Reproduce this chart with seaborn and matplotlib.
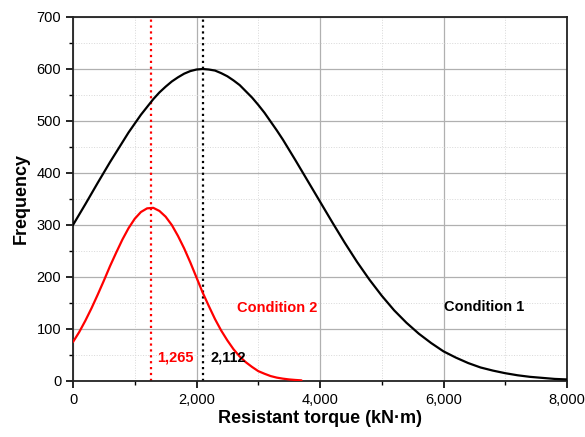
import numpy as np
import pandas as pd
import matplotlib.pyplot as plt
import seaborn as sns
from matplotlib.ticker import MultipleLocator, FuncFormatter

# ==========================================
# 1. DADOS
# ==========================================
# Condition 1 (curva preta)
torque_c1 = [0, 200, 400, 600, 800, 900, 1000, 1100, 1200, 1300, 1400, 1500,
             1600, 1700, 1800, 1900, 2000, 2100, 2200, 2300, 2400, 2500,
             2600, 2700, 2800, 2900, 3000, 3100, 3200, 3300, 3400, 3600,
             3800, 4000, 4200, 4400, 4600, 4800, 5000, 5200, 5400, 5600,
             5800, 6000, 6200, 6400, 6600, 6800, 7000, 7200, 7400, 7600,
             7800, 8000]
freq_c1 = [300, 340, 381, 421, 459, 478, 495, 512, 527, 542, 555, 566,
           576, 584, 591, 596, 599, 600, 599, 597, 592, 586,
           578, 569, 557, 545, 531, 516, 499, 482, 464, 425,
           385, 345, 305, 266, 229, 195, 164, 136, 112, 91,
           73, 57, 45, 34.5, 26, 20, 15, 11, 8, 6,
           4, 3]

# Condition 2 (curva vermelha), passo de 100 kN·m
torque_c2 = list(range(0, 3701, 100))
freq_c2 = [75, 94, 116, 140, 166, 193, 221, 247, 272, 294, 312,
           325, 332, 333, 327, 316, 300, 279, 255, 228, 199,
           170, 144, 119, 97, 78, 61, 47, 36, 27, 19,
           14, 9.5, 6.5, 4.5, 3, 2, 1.2]

media_c1 = 2112
media_c2 = 1265
rotulos_condicao = ["Condition 1", "Condition 2"]

df1 = pd.DataFrame({"torque": torque_c1, "freq": freq_c1})
df2 = pd.DataFrame({"torque": torque_c2, "freq": freq_c2})

# ==========================================
# 2. ESTILO
# ==========================================
sns.set_style("ticks")
plt.rcParams['font.family'] = ['Liberation Sans', 'DejaVu Sans']
plt.rcParams['text.color'] = 'black'
plt.rcParams['axes.labelcolor'] = 'black'
plt.rcParams['xtick.color'] = 'black'
plt.rcParams['ytick.color'] = 'black'

fig = plt.figure(figsize=(5.85, 4.37), dpi=100)
ax = fig.add_axes([73 / 585, 56 / 437, 494 / 585, 364 / 437])

# grade principal e secundária
ax.xaxis.set_major_locator(MultipleLocator(2000))
ax.xaxis.set_minor_locator(MultipleLocator(1000))
ax.yaxis.set_major_locator(MultipleLocator(100))
ax.yaxis.set_minor_locator(MultipleLocator(50))
ax.grid(which='major', color='#b0b0b0', linewidth=0.9, linestyle='-', zorder=0)
ax.grid(which='minor', color='#d8d8d8', linewidth=0.7, linestyle=':', zorder=0)
ax.set_axisbelow(True)

# ==========================================
# 3. CURVAS
# ==========================================
ax.axvline(media_c2, color='red', linestyle=':', linewidth=1.6, zorder=2)
ax.axvline(media_c1, color='black', linestyle=':', linewidth=1.6, zorder=2)

sns.lineplot(data=df1, x="torque", y="freq", ax=ax, color='black', linewidth=1.6, zorder=3)
sns.lineplot(data=df2, x="torque", y="freq", ax=ax, color='red', linewidth=1.6, zorder=3)

ax.set_xlim(0, 8000)
ax.set_ylim(0, 700)

# rótulos internos
ax.text(6008, 142, rotulos_condicao[0], color='black', fontsize=10.5, fontweight='bold', va='center', ha='left')
ax.text(2656, 140, rotulos_condicao[1], color='red', fontsize=10.5, fontweight='bold', va='center', ha='left')
ax.text(1360, 46, f"{media_c2:,}", color='red', fontsize=10.5, fontweight='bold', va='center', ha='left')
ax.text(2219, 46, f"{media_c1:,}", color='black', fontsize=10.5, fontweight='bold', va='center', ha='left')

# eixos
ax.xaxis.set_major_formatter(FuncFormatter(lambda v, p: f"{int(v):,}"))
ax.set_xlabel("Resistant torque (kN·m)", fontsize=13, fontweight='bold', labelpad=2)
ax.set_ylabel("Frequency", fontsize=13, fontweight='bold', labelpad=5)
ax.tick_params(axis='both', which='major', labelsize=10.5, direction='out', length=5, width=1.2)
ax.tick_params(axis='both', which='minor', direction='out', length=3, width=1.0)
for lado in ax.spines.values():
    lado.set_visible(True)
    lado.set_color('#222222')
    lado.set_linewidth(1.3)

fig.savefig("out.png", dpi=100)
plt.close(fig)
